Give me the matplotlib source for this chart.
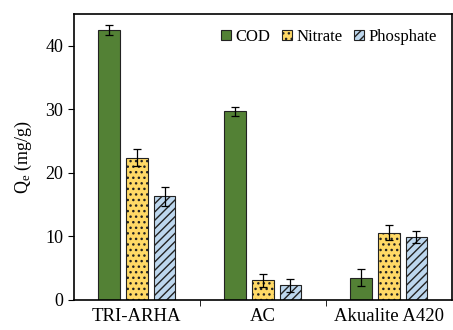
import matplotlib
matplotlib.use("Agg")
import matplotlib.pyplot as plt
import numpy as np

plt.rcParams['font.family'] = 'Liberation Serif'
plt.rcParams['mathtext.fontset'] = 'custom'
plt.rcParams['mathtext.rm'] = 'Liberation Serif'
plt.rcParams['mathtext.it'] = 'Liberation Serif:italic'
plt.rcParams['hatch.linewidth'] = 1.0

categories = ['TRI-ARHA', 'AC', 'Akualite A420']
series = ['COD', 'Nitrate', 'Phosphate']
cod = [42.5, 29.7, 3.5]
cod_err = [0.8, 0.7, 1.3]
nitrate = [22.4, 3.1, 10.6]
nitrate_err = [1.3, 1.0, 1.2]
phosphate = [16.3, 2.3, 9.9]
phosphate_err = [1.5, 1.0, 1.0]

colors = ['#538135', '#FFD966', '#BDD7EE']
hatches = ['', '...', '////']

fig = plt.figure(figsize=(4.53, 3.3), dpi=100)
ax = fig.add_axes([0.163, 0.091, 0.834, 0.867])

x = np.arange(len(categories))
w = 0.172
step = 0.22
for i, (vals, errs) in enumerate([(cod, cod_err), (nitrate, nitrate_err), (phosphate, phosphate_err)]):
    ax.bar(x + (i - 1) * step, vals, w, yerr=errs, color=colors[i], edgecolor='#222222',
           linewidth=0.8, hatch=hatches[i], label=series[i],
           error_kw=dict(ecolor='black', elinewidth=0.9, capsize=3, capthick=0.9))

ax.set_xlim(-0.5, 2.5)
ax.set_ylim(0, 45)
ax.set_yticks([0, 10, 20, 30, 40])
ax.set_xticks(x)
ax.set_xticklabels(categories)
ax.set_xticks([0.5, 1.5], minor=True)
ax.tick_params(axis='x', which='major', length=0, labelsize=13.5, pad=6)
ax.tick_params(axis='x', which='minor', length=4, direction='out')
ax.tick_params(axis='y', direction='out', length=4, labelsize=13)
for s in ax.spines.values():
    s.set_linewidth(1.2)
ax.set_ylabel('Q$_\\mathrm{e}$ (mg/g)', fontsize=13, labelpad=8)

ax.legend(loc='upper right', ncol=3, frameon=False, fontsize=12, handlelength=0.6,
          handleheight=0.6, handletextpad=0.25, columnspacing=0.7, bbox_to_anchor=(1.0, 1.0))

fig.savefig('out.png', dpi=100)
